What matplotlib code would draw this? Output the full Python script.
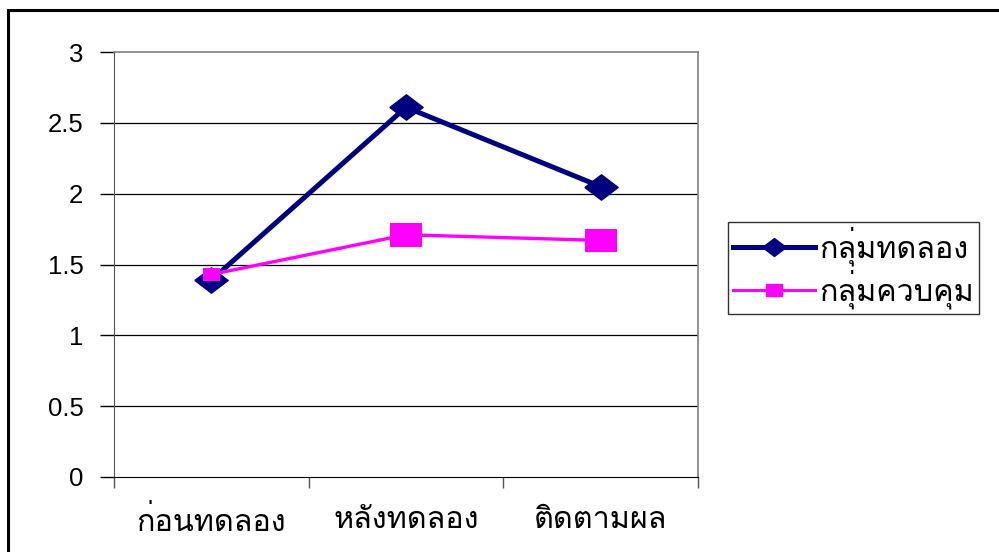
import matplotlib
matplotlib.use('Agg')
import matplotlib.pyplot as plt
from matplotlib import font_manager
from matplotlib.patches import Rectangle
from matplotlib.lines import Line2D
import numpy as np

# data
categories = ['ก่อนทดลอง', 'หลังทดลอง', 'ติดตามผล']
exp_group = [1.39, 2.61, 2.05]     # กลุ่มทดลอง
ctrl_group = [1.43, 1.71, 1.67]    # กลุ่มควบคุม
series_names = ['กลุ่มทดลอง', 'กลุ่มควบคุม']
yticks = [0, 0.5, 1, 1.5, 2, 2.5, 3]


def thai_font():
    # look for any installed family that has Thai glyphs
    try:
        from fontTools.ttLib import TTFont
    except ImportError:
        return 'DejaVu Sans'
    for f in font_manager.fontManager.ttflist:
        try:
            cmap = TTFont(f.fname, fontNumber=0, lazy=True).getBestCmap()
        except Exception:
            continue
        if cmap and 0x0E01 in cmap and 0x0E38 in cmap:
            return f.name
    return 'DejaVu Sans'


TH = thai_font()
plt.rcParams['font.family'] = [TH, 'Liberation Sans', 'DejaVu Sans']

BLUE = '#000080'
PINK = '#FF00FF'

# wide diamond / wide square markers (chart is a bit stretched horizontally)
diamond = [(-1, 0), (0, 0.76), (1, 0), (0, -0.76), (-1, 0)]
square = [(-1, -0.74), (1, -0.74), (1, 0.74), (-1, 0.74), (-1, -0.74)]

fig = plt.figure(figsize=(9.99, 5.52), dpi=100)
# outer chart border
fig.patches.append(Rectangle((8 / 999, -0.05), 1.1, 1 - 10 / 552 + 0.05,
                             transform=fig.transFigure, fill=False,
                             edgecolor='black', lw=2.2, zorder=0))

ax = fig.add_axes([114 / 999, 1 - 477 / 552, 584 / 999, 425 / 552])
x = np.arange(len(categories))

for y in yticks[1:-1]:
    ax.axhline(y, color='black', lw=0.9, zorder=1)

ax.plot(x, exp_group, color=BLUE, lw=3.6, marker=diamond, markersize=24,
        zorder=3, clip_on=False)
ax.plot(x, ctrl_group, color=PINK, lw=2.4, zorder=4, clip_on=False)
ax.scatter(x, ctrl_group, marker=square, s=[12 ** 2, 23 ** 2, 23 ** 2],
           color=PINK, zorder=5, clip_on=False, linewidths=0)

ax.set_xlim(-0.5, 2.5)
ax.set_ylim(0, 3)
ax.set_yticks(yticks)
ax.set_yticklabels(['0', '0.5', '1', '1.5', '2', '2.5', '3'],
                   family=['Liberation Sans', 'DejaVu Sans'], fontsize=18.5)
ax.tick_params(axis='y', direction='out', length=10, width=1, pad=12, color='black')

ax.set_xticks([-0.5, 0.5, 1.5, 2.5])
ax.set_xticklabels([])
ax.tick_params(axis='x', which='major', direction='out', length=8, width=1, color='#555555')
ax.set_xticks(x, minor=True)
ax.set_xticklabels(categories, minor=True, fontsize=22)
ax.tick_params(axis='x', which='minor', length=0, pad=21)

for side in ['top', 'right']:
    ax.spines[side].set_color('#808080')
    ax.spines[side].set_linewidth(1.2)
ax.spines['left'].set_color('#555555')
ax.spines['bottom'].set_color('black')

handles = [Line2D([], [], color=BLUE, lw=3.6, marker=diamond, markersize=17),
           Line2D([], [], color=PINK, lw=2.2, marker=square, markersize=11)]
leg = fig.legend(handles, series_names, loc='upper left',
                 bbox_to_anchor=(728 / 999, 1 - 222 / 552), fontsize=22,
                 frameon=True, fancybox=False, edgecolor='black',
                 handlelength=2.7, borderpad=0.15, labelspacing=0.12,
                 handletextpad=0.15, borderaxespad=0)
leg.get_frame().set_linewidth(1.0)

fig.savefig('out.png', dpi=100)
